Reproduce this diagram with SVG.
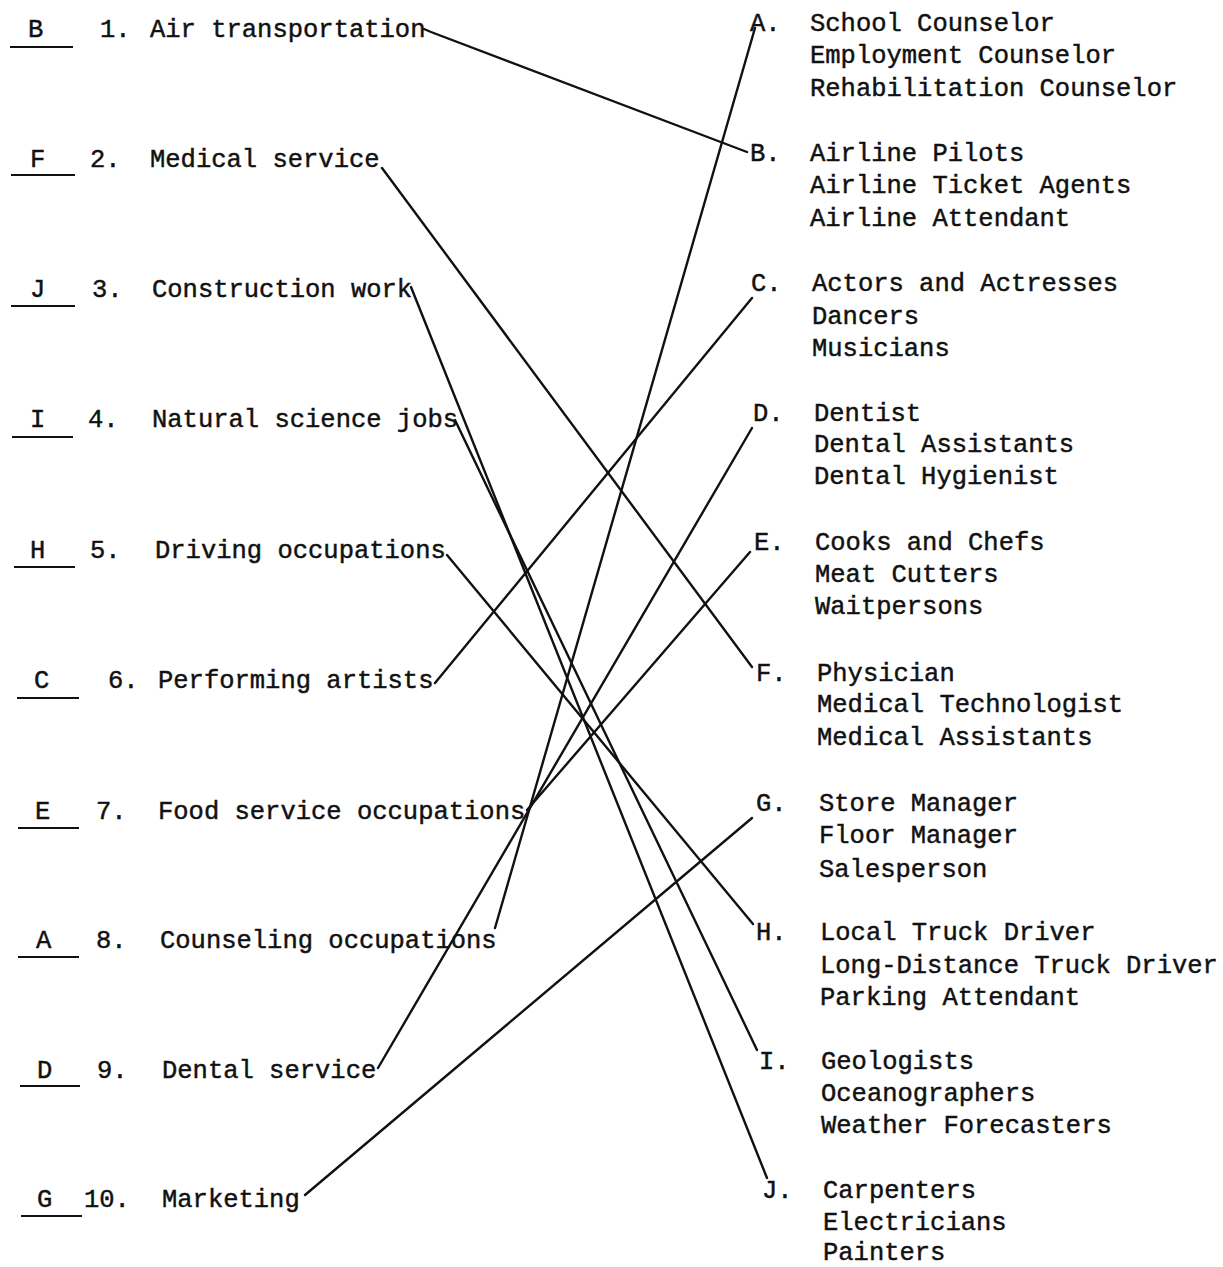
<svg xmlns="http://www.w3.org/2000/svg" width="1223" height="1267" viewBox="0 0 1223 1267">
<style>
text{font-family:"Liberation Mono","Courier New",monospace;font-size:25.5px;fill:#111;stroke:#111;stroke-width:0.45;}
.ul{stroke:#111;stroke-width:2;}
.c{stroke:#111;stroke-width:2.4;fill:none;stroke-linecap:round;}
</style>
<rect width="1223" height="1267" fill="#fff"/>
<g id="left-1"><line class="ul" x1="10" y1="47" x2="73" y2="47"/><text x="28" y="37">B</text><text x="100" y="37">1.</text><text x="150" y="37">Air transportation</text></g>
<g id="left-2"><line class="ul" x1="11" y1="175" x2="75" y2="175"/><text x="30" y="167">F</text><text x="90" y="167">2.</text><text x="150" y="167">Medical service</text></g>
<g id="left-3"><line class="ul" x1="11" y1="306" x2="75" y2="306"/><text x="30" y="297">J</text><text x="92" y="297">3.</text><text x="152" y="297">Construction work</text></g>
<g id="left-4"><line class="ul" x1="12" y1="437" x2="73" y2="437"/><text x="30" y="427">I</text><text x="88" y="427">4.</text><text x="152" y="427">Natural science jobs</text></g>
<g id="left-5"><line class="ul" x1="14" y1="567" x2="75" y2="567"/><text x="30" y="558">H</text><text x="90" y="558">5.</text><text x="155" y="558">Driving occupations</text></g>
<g id="left-6"><line class="ul" x1="17" y1="698" x2="79" y2="698"/><text x="34" y="688">C</text><text x="108" y="688">6.</text><text x="158" y="688">Performing artists</text></g>
<g id="left-7"><line class="ul" x1="18" y1="828" x2="79" y2="828"/><text x="35" y="819">E</text><text x="96" y="819">7.</text><text x="158" y="819">Food service occupations</text></g>
<g id="left-8"><line class="ul" x1="18" y1="957" x2="79" y2="957"/><text x="36" y="948">A</text><text x="96" y="948">8.</text><text x="160" y="948">Counseling occupations</text></g>
<g id="left-9"><line class="ul" x1="20" y1="1086" x2="80" y2="1086"/><text x="37" y="1078">D</text><text x="97" y="1078">9.</text><text x="162" y="1078">Dental service</text></g>
<g id="left-10"><line class="ul" x1="21" y1="1216" x2="82" y2="1216"/><text x="37" y="1207">G</text><text x="84" y="1207">10.</text><text x="162" y="1207">Marketing</text></g>

<g id="right-A"><text x="750" y="31">A.</text><text x="810" y="31">School Counselor</text><text x="810" y="63">Employment Counselor</text><text x="810" y="96">Rehabilitation Counselor</text></g>
<g id="right-B"><text x="750" y="161">B.</text><text x="810" y="161">Airline Pilots</text><text x="810" y="193">Airline Ticket Agents</text><text x="810" y="226">Airline Attendant</text></g>
<g id="right-C"><text x="751" y="291">C.</text><text x="812" y="291">Actors and Actresses</text><text x="812" y="324">Dancers</text><text x="812" y="356">Musicians</text></g>
<g id="right-D"><text x="753" y="421">D.</text><text x="814" y="421">Dentist</text><text x="814" y="452">Dental Assistants</text><text x="814" y="484">Dental Hygienist</text></g>
<g id="right-E"><text x="754" y="550">E.</text><text x="815" y="550">Cooks and Chefs</text><text x="815" y="582">Meat Cutters</text><text x="815" y="614">Waitpersons</text></g>
<g id="right-F"><text x="756" y="681">F.</text><text x="817" y="681">Physician</text><text x="817" y="712">Medical Technologist</text><text x="817" y="745">Medical Assistants</text></g>
<g id="right-G"><text x="756" y="811">G.</text><text x="819" y="811">Store Manager</text><text x="819" y="843">Floor Manager</text><text x="819" y="877">Salesperson</text></g>
<g id="right-H"><text x="756" y="940">H.</text><text x="820" y="940">Local Truck Driver</text><text x="820" y="973">Long-Distance Truck Driver</text><text x="820" y="1005">Parking Attendant</text></g>
<g id="right-I"><text x="759" y="1069">I.</text><text x="821" y="1069">Geologists</text><text x="821" y="1101">Oceanographers</text><text x="821" y="1133">Weather Forecasters</text></g>
<g id="right-J"><text x="762" y="1198">J.</text><text x="823" y="1198">Carpenters</text><text x="823" y="1230">Electricians</text><text x="823" y="1260">Painters</text></g>

<g id="connectors">
<path class="c" d="M424 29 L431 32 L747 152"/>
<line class="c" x1="382" y1="168" x2="752" y2="667"/>
<line class="c" x1="411" y1="287" x2="767" y2="1178"/>
<line class="c" x1="455" y1="420" x2="757" y2="1050"/>
<line class="c" x1="447" y1="555" x2="753" y2="924"/>
<line class="c" x1="435" y1="683" x2="752" y2="298"/>
<line class="c" x1="527" y1="810" x2="750" y2="552"/>
<line class="c" x1="495" y1="928" x2="755" y2="28"/>
<line class="c" x1="378" y1="1068" x2="752" y2="428"/>
<line class="c" x1="305" y1="1195" x2="752" y2="818"/>
</g>
</svg>
